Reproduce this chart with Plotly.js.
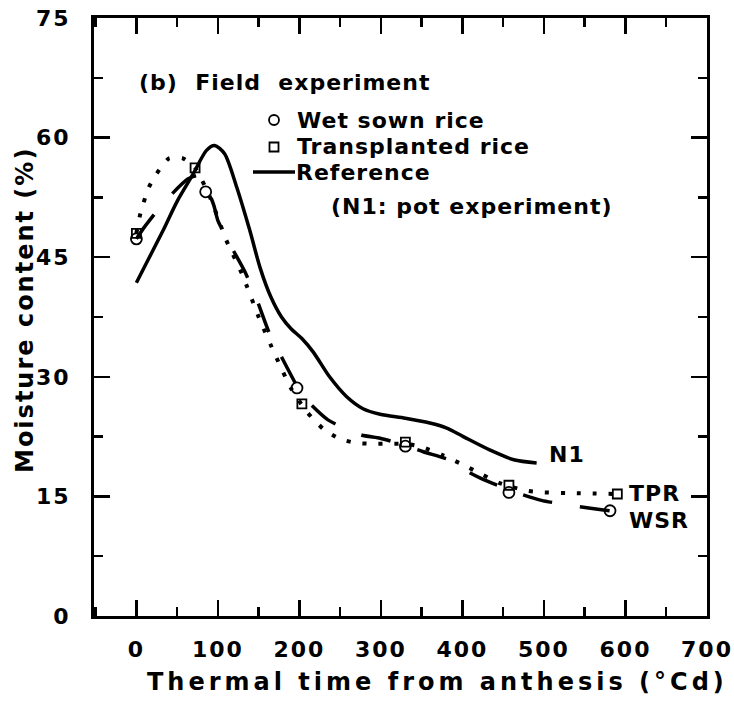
<!DOCTYPE html>
<html>
<head>
<meta charset="utf-8">
<script src="https://cdn.plot.ly/plotly-3.0.1.min.js"></script>
<style>
  html, body { margin: 0; padding: 0; background: #fff; }
  #chart { width: 734px; height: 704px; }
  .xtick text, .ytick text { letter-spacing: 2px; }
  .annotation-text { letter-spacing: 1px; }
  g.annotation[data-index="0"] text { letter-spacing: 4px; }
  g.annotation[data-index="1"] text { letter-spacing: 2px; }
</style>
</head>
<body>
<div id="chart"></div>
<script>
// Observed moisture content (%) against thermal time from anthesis (°Cd)
const wsrObsX = [0, 85, 197, 330, 457, 581];
const wsrObsY = [47.3, 53.2, 28.6, 21.3, 15.5, 13.2];
const tprObsX = [0, 72, 203, 330, 457, 590];
const tprObsY = [48.0, 56.2, 26.6, 21.8, 16.4, 15.3];

// Simulated curve, wet sown rice (dashed)
const wsrSimX = [0, 10, 35, 63, 75, 85, 95, 100, 117, 133, 148, 163, 180, 195, 205, 235, 276, 299, 330, 352, 389, 403, 422, 460, 497, 538, 573, 581];
const wsrSimY = [47.3, 48.8, 52.0, 54.8, 55.2, 54.0, 51.5, 49.6, 46.2, 43.2, 39.6, 35.5, 32.1, 29.2, 27.5, 24.6, 22.7, 22.3, 21.4, 20.6, 19.4, 18.3, 17.3, 15.7, 14.5, 13.8, 13.3, 13.2];

// Simulated curve, transplanted rice (dotted)
const tprSimX = [0, 5, 15, 25, 40, 57, 72, 90, 110, 130, 150, 170, 190, 210, 230, 250, 270, 290, 310, 330, 350, 375, 400, 425, 445, 460, 480, 500, 540, 590];
const tprSimY = [48.0, 50.5, 53.7, 55.5, 57.4, 57.4, 56.2, 52.6, 47.2, 42.8, 37.5, 32.8, 28.5, 25.5, 23.4, 22.2, 21.7, 21.6, 21.6, 21.6, 21.2, 20.2, 19.0, 17.7, 16.7, 16.2, 15.7, 15.5, 15.4, 15.3];

// Reference curve N1 (pot experiment, solid)
const n1X = [0, 15, 33, 50, 70, 86, 96, 108, 123, 139, 152, 165, 178, 190, 203, 217, 237, 258, 278, 299, 330, 360, 380, 401, 434, 463, 491];
const n1Y = [41.8, 44.8, 48.4, 52.0, 55.5, 58.4, 59.0, 58.0, 53.8, 48.4, 43.6, 40.0, 37.5, 36.0, 34.8, 33.1, 30.0, 27.5, 26.0, 25.3, 24.8, 24.2, 23.6, 22.5, 20.8, 19.6, 19.2];

const xTickVals = [0, 100, 200, 300, 400, 500, 600, 700];
const yTickVals = [0, 15, 30, 45, 60, 75];

const FONT = 'DejaVu Sans';
const black = '#000000';

const traces = [
  {
    x: n1X, y: n1Y, mode: 'lines', name: 'Reference',
    line: { color: black, width: 3.5, shape: 'spline', smoothing: 0.8 },
    showlegend: false, hoverinfo: 'skip'
  },
  {
    x: wsrSimX, y: wsrSimY, mode: 'lines', name: 'WSR',
    line: { color: black, width: 3.5, dash: '30px,28px', shape: 'spline', smoothing: 0.6 },
    showlegend: false, hoverinfo: 'skip'
  },
  {
    x: tprSimX, y: tprSimY, mode: 'lines', name: 'TPR',
    line: { color: black, width: 4, dash: '4px,12px', shape: 'spline', smoothing: 0.6 },
    showlegend: false, hoverinfo: 'skip'
  },
  {
    x: wsrObsX, y: wsrObsY, mode: 'markers', name: 'Wet sown rice',
    marker: { symbol: 'circle-open', size: 11, color: black, line: { width: 1.8, color: black } },
    showlegend: false
  },
  {
    x: tprObsX, y: tprObsY, mode: 'markers', name: 'Transplanted rice',
    marker: { symbol: 'square-open', size: 9, color: black, line: { width: 1.8, color: black } },
    showlegend: false
  }
];

const tickFont = { family: FONT, size: 22, weight: 'bold', color: black };
const textFont = { family: FONT, size: 22, weight: 'bold', color: black };

// pixel helpers for the legend block (plot area spans 613 x 598 px)
const px = v => (v - 94) / 613;
const py = v => (616 - v) / 598;

const layout = {
  width: 734, height: 704,
  margin: { l: 94, r: 27, t: 18, b: 88 },
  paper_bgcolor: '#ffffff', plot_bgcolor: '#ffffff',
  showlegend: false,
  xaxis: {
    range: [-52, 700], tickmode: 'array', tickvals: xTickVals,
    ticks: 'inside', ticklen: 16, tickwidth: 2.5, tickcolor: black,
    showline: true, linewidth: 3, linecolor: black, mirror: 'allticks',
    showgrid: false, zeroline: false,
    tickfont: tickFont, ticklabelstandoff: 12,
    minor: { tick0: 50, dtick: 100, ticks: 'inside', ticklen: 9, tickwidth: 2.5, tickcolor: black, showgrid: false }
  },
  yaxis: {
    range: [0, 75], tickmode: 'array', tickvals: yTickVals,
    ticks: 'inside', ticklen: 16, tickwidth: 2.5, tickcolor: black,
    showline: true, linewidth: 3, linecolor: black, mirror: 'allticks',
    showgrid: false, zeroline: false,
    tickfont: tickFont, ticklabelstandoff: 16,
    minor: { tick0: 7.5, dtick: 15, ticks: 'inside', ticklen: 9, tickwidth: 2.5, tickcolor: black, showgrid: false }
  },
  annotations: [
    { text: 'Thermal time from anthesis (°Cd)', xref: 'paper', yref: 'paper',
      x: px(437), y: py(682), xanchor: 'center', yanchor: 'middle', showarrow: false,
      font: { family: FONT, size: 24, weight: 'bold', color: black } },
    { text: 'Moisture content (%)', xref: 'paper', yref: 'paper',
      x: px(25), y: py(310), xanchor: 'center', yanchor: 'middle', textangle: -90, showarrow: false,
      font: { family: FONT, size: 24, weight: 'bold', color: black } },
    { text: '(b)  Field  experiment', xref: 'paper', yref: 'paper',
      x: px(137), y: py(82), xanchor: 'left', yanchor: 'middle', showarrow: false, font: textFont },
    { text: 'Wet sown rice', xref: 'paper', yref: 'paper',
      x: px(295), y: py(120), xanchor: 'left', yanchor: 'middle', showarrow: false, font: textFont },
    { text: 'Transplanted rice', xref: 'paper', yref: 'paper',
      x: px(295), y: py(147), xanchor: 'left', yanchor: 'middle', showarrow: false, font: textFont },
    { text: 'Reference', xref: 'paper', yref: 'paper',
      x: px(294), y: py(172), xanchor: 'left', yanchor: 'middle', showarrow: false, font: textFont },
    { text: '(N1: pot experiment)', xref: 'paper', yref: 'paper',
      x: px(329), y: py(206), xanchor: 'left', yanchor: 'middle', showarrow: false, font: textFont },
    { text: 'N1', xref: 'x', yref: 'y', x: 504, y: 20.2,
      xanchor: 'left', yanchor: 'middle', showarrow: false, font: textFont },
    { text: 'TPR', xref: 'x', yref: 'y', x: 602, y: 15.4,
      xanchor: 'left', yanchor: 'middle', showarrow: false, font: textFont },
    { text: 'WSR', xref: 'x', yref: 'y', x: 602, y: 12.0,
      xanchor: 'left', yanchor: 'middle', showarrow: false, font: textFont }
  ],
  shapes: [
    // legend keys
    { type: 'circle', xref: 'paper', yref: 'paper', xsizemode: 'pixel', ysizemode: 'pixel',
      xanchor: px(274), yanchor: py(120), x0: -5, x1: 5, y0: -5, y1: 5,
      line: { color: black, width: 1.8 } },
    { type: 'rect', xref: 'paper', yref: 'paper', xsizemode: 'pixel', ysizemode: 'pixel',
      xanchor: px(274), yanchor: py(147), x0: -4.5, x1: 4.5, y0: -4.5, y1: 4.5,
      line: { color: black, width: 1.8 } },
    { type: 'line', xref: 'paper', yref: 'paper',
      x0: px(253), x1: px(295), y0: py(172), y1: py(172),
      line: { color: black, width: 3.5 } }
  ]
};

Plotly.newPlot('chart', traces, layout, { staticPlot: true, displayModeBar: false });
</script>
</body>
</html>
